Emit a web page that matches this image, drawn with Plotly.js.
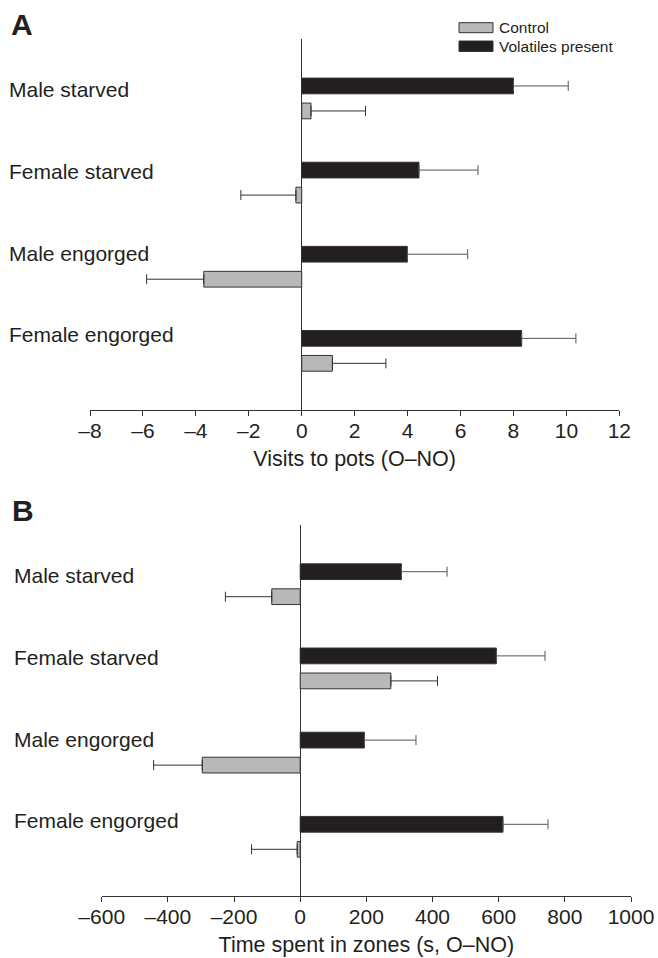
<!DOCTYPE html>
<html>
<head>
<meta charset="utf-8">
<script src="https://cdn.plot.ly/plotly-3.0.1.min.js"></script>
<style>html,body{margin:0;padding:0;background:#fff;}#chart{width:658px;height:958px;}</style>
</head>
<body>
<div id="chart"></div>
<script>
// ---- data ----
const categories = ['Male starved', 'Female starved', 'Male engorged', 'Female engorged'];
const seriesNames = ['Control', 'Volatiles present'];

// Panel A: visits to pots (O–NO)
const visitsVolatiles    = [8.0, 4.43, 3.99, 8.31];
const visitsVolatilesErr = [2.07, 2.23, 2.28, 2.05];
const visitsControl      = [0.35, -0.22, -3.70, 1.16];
const visitsControlErr   = [2.06, 2.08, 2.16, 2.02];

// Panel B: time spent in zones (s, O–NO)
const timeVolatiles    = [306, 593, 194, 613];
const timeVolatilesErr = [138, 147, 156, 136];
const timeControl      = [-86, 274, -296, -9];
const timeControlErr   = [140, 141, 147, 138];

// tick labels
const visitsTickVals = [-8, -6, -4, -2, 0, 2, 4, 6, 8, 10, 12];
const visitsTickText = ['–8', '–6', '–4', '–2', '0', '2', '4', '6', '8', '10', '12'];
const timeTickVals = [-600, -400, -200, 0, 200, 400, 600, 800, 1000];
const timeTickText = ['–600', '–400', '–200', '0', '200', '400', '600', '800', '1000'];

// ---- helpers ----
const W = 658, H = 958;
const px = v => v / W;
const py = v => 1 - v / H;
const FONT = 'Liberation Sans, Arial, sans-serif';
const TXT = '#231f20';
const BLACK = '#231f20';
const GREY = '#b8b8b8';

function errs(vals, e) {
  return {
    type: 'data', symmetric: false,
    array: vals.map((v, i) => v >= 0 ? e[i] : 0),
    arrayminus: vals.map((v, i) => v < 0 ? e[i] : 0),
    thickness: 1, width: 5
  };
}
const BW = 0.187;
function barTrace(vals, e, name, color, offset, xa, ya, errColor) {
  const ex = errs(vals, e); ex.color = errColor;
  return {
    type: 'bar', orientation: 'h', name: name,
    x: vals, y: categories, xaxis: xa, yaxis: ya,
    width: BW, offset: offset,
    marker: {color: color, line: {color: '#333333', width: 1}},
    error_x: ex, showlegend: false, hoverinfo: 'x+y+name'
  };
}

const data = [
  barTrace(visitsVolatiles, visitsVolatilesErr, seriesNames[1], BLACK, -0.242, 'x', 'y', '#555555'),
  barTrace(visitsControl, visitsControlErr, seriesNames[0], GREY, 0.055, 'x', 'y', '#333333'),
  barTrace(timeVolatiles, timeVolatilesErr, seriesNames[1], BLACK, -0.242, 'x2', 'y2', '#555555'),
  barTrace(timeControl, timeControlErr, seriesNames[0], GREY, 0.055, 'x2', 'y2', '#333333')
];

function xax(domain, range, tv, tt, title) {
  return {
    domain: domain, range: range,
    tickmode: 'array', tickvals: tv, ticktext: tt,
    ticks: 'outside', ticklen: 5, tickcolor: '#333', tickwidth: 1,
    ticklabelstandoff: -3,
    showline: true, linecolor: '#333', linewidth: 1,
    showgrid: false, zeroline: true, zerolinecolor: '#333', zerolinewidth: 1,
    tickfont: {family: FONT, size: 21, color: TXT},
    title: {text: title, font: {family: FONT, size: 21.5, color: TXT}, standoff: 9},
    automargin: false, fixedrange: true
  };
}
function yax(domain) {
  return {
    domain: domain, type: 'category', categoryorder: 'array', categoryarray: categories,
    range: [3.703, -0.703], showticklabels: false, showgrid: false, zeroline: false,
    showline: false, ticks: '', automargin: false, fixedrange: true
  };
}

const layout = {
  width: W, height: H,
  margin: {l: 0, r: 0, t: 0, b: 0},
  paper_bgcolor: '#fff', plot_bgcolor: 'rgba(0,0,0,0)',
  barmode: 'overlay', showlegend: false,
  xaxis: Object.assign(xax([px(90), px(619.3)], [-8, 12], visitsTickVals, visitsTickText, 'Visits to pots (O–NO)'), {anchor: 'y'}),
  yaxis: Object.assign(yax([py(410), py(39.3)]), {anchor: 'x'}),
  xaxis2: Object.assign(xax([px(101.7), px(631)], [-600, 1000], timeTickVals, timeTickText, 'Time spent in zones (s, O–NO)'), {anchor: 'y2'}),
  yaxis2: Object.assign(yax([py(896), py(525)]), {anchor: 'x2'}),
  annotations: [],
  shapes: []
};

// panel letters
layout.annotations.push({text: '<b>A</b>', xref: 'paper', yref: 'paper', x: px(9), y: py(24), xanchor: 'left', yanchor: 'middle', showarrow: false, font: {family: FONT, size: 30, color: TXT}});
layout.annotations.push({text: '<b>B</b>', xref: 'paper', yref: 'paper', x: px(9.5), y: py(510.5), xanchor: 'left', yanchor: 'middle', showarrow: false, font: {family: FONT, size: 30, color: TXT}});

// category labels
const labA = [89.7, 171, 253, 334.7];
const labB = [575.8, 657.5, 739.2, 820.8];
categories.forEach((c, i) => {
  layout.annotations.push({text: c, xref: 'paper', yref: 'paper', x: px(7), y: py(labA[i]), xanchor: 'left', yanchor: 'middle', showarrow: false, font: {family: FONT, size: 21, color: TXT}});
  layout.annotations.push({text: c, xref: 'paper', yref: 'paper', x: px(12), y: py(labB[i]), xanchor: 'left', yanchor: 'middle', showarrow: false, font: {family: FONT, size: 21, color: TXT}});
});

// legend (drawn manually to match the wide swatches)
const legendItems = [
  {name: seriesNames[0], color: GREY, y0: 22.7, y1: 32.7},
  {name: seriesNames[1], color: BLACK, y0: 41, y1: 51.5}
];
legendItems.forEach(it => {
  layout.shapes.push({type: 'rect', xref: 'paper', yref: 'paper', x0: px(459), x1: px(493), y0: py(it.y1), y1: py(it.y0), fillcolor: it.color, line: {color: '#333', width: 1}});
  layout.annotations.push({text: it.name, xref: 'paper', yref: 'paper', x: px(497), y: py((it.y0 + it.y1) / 2), xanchor: 'left', yanchor: 'middle', showarrow: false, font: {family: FONT, size: 15.5, color: TXT}});
});

Plotly.newPlot('chart', data, layout, {displayModeBar: false, staticPlot: true});
</script>
</body>
</html>
